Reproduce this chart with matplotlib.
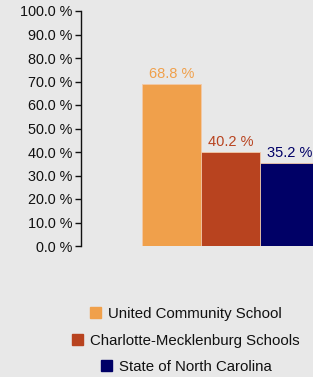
import matplotlib.pyplot as plt
import matplotlib.patches as mpatches

plt.rcParams['font.family'] = ['Liberation Sans', 'DejaVu Sans']

# data
schools = ["United Community School", "Charlotte-Mecklenburg Schools", "State of North Carolina"]
values = [68.8, 40.2, 35.2]
colors = ["#F0A04B", "#B8431F", "#000066"]
yticks = [0, 10, 20, 30, 40, 50, 60, 70, 80, 90, 100]

bg = "#e8e8e8"
fig = plt.figure(figsize=(3.13, 3.77), dpi=100, facecolor=bg)
ax = fig.add_axes([81/313, 131/377, 232/313, 235/377])
ax.set_facecolor(bg)

pos = list(range(len(values)))
ax.bar(pos, values, width=1.0, color=colors, edgecolor="#f2c9a8", linewidth=0.6)

for p, v, c in zip(pos, values, colors):
    ax.text(p, v + 1.2, f"{v:.1f} %", ha="center", va="bottom", color=c, fontsize=10.5)

ax.set_xlim(-1.534, 2.398)
ax.set_ylim(0, 100)
ax.set_yticks(yticks)
ax.set_yticklabels([f"{t:.1f} %" for t in yticks])
ax.tick_params(axis="y", direction="out", length=4, width=1, pad=2, labelsize=10.4, colors="#111111")
ax.set_xticks([])
for s in ["top", "right", "bottom"]:
    ax.spines[s].set_visible(False)
ax.spines["left"].set_color("#111111")
ax.spines["left"].set_linewidth(1)

# legend, one centred row per school
rows_y = [1 - 314/377, 1 - 341/377, 1 - 367/377]
for name, c, y in zip(schools, colors, rows_y):
    h = mpatches.Patch(color=c)
    fig.legend([h], [name], loc="center", bbox_to_anchor=(186/313, y), frameon=False,
               fontsize=10.8, handlelength=0.75, handleheight=0.75, handletextpad=0.45,
               borderpad=0, borderaxespad=0, labelcolor="#111111")

fig.savefig("out.png", dpi=100, facecolor=bg)
